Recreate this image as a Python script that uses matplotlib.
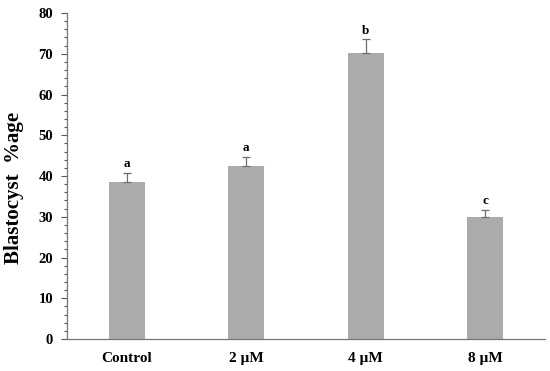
import matplotlib.pyplot as plt
from matplotlib.ticker import MultipleLocator

groups = ['Control', '2 \u00b5M', '4 \u00b5M', '8 \u00b5M']
blastocyst = [38.6, 42.5, 70.1, 29.9]
errors = [2.2, 2.2, 3.5, 1.8]
letters = ['a', 'a', 'b', 'c']

plt.rcParams['font.family'] = 'Liberation Serif'
plt.rcParams['font.weight'] = 'bold'

fig = plt.figure(figsize=(5.5, 3.71), dpi=100)
ax = fig.add_axes([0.122, 0.086, 0.869, 0.879])

x = range(len(groups))
ax.bar(x, blastocyst, width=0.3, color='#adaaab', zorder=2)
ax.errorbar(x, blastocyst, yerr=[[0] * len(errors), errors], fmt='none',
            ecolor='#6d6d6d', elinewidth=0.9, capsize=3, capthick=0.9, zorder=3)
for i, (v, e, l) in enumerate(zip(blastocyst, errors, letters)):
    ax.text(i, v + e + 0.6, l, ha='center', va='bottom', fontsize=9.5, fontweight='bold')

ax.set_xlim(-0.5, 3.5)
ax.set_ylim(0, 80)
ax.set_xticks(list(x))
ax.set_xticklabels(groups, fontsize=11, fontweight='bold')
ax.yaxis.set_major_locator(MultipleLocator(10))
ax.yaxis.set_minor_locator(MultipleLocator(2))
ax.tick_params(axis='y', which='major', length=4, width=0.8, color='#555555', labelsize=10.5, pad=6)
ax.tick_params(axis='y', which='minor', length=2.5, width=0.8, color='#555555')
ax.tick_params(axis='x', length=0, pad=9)
for lab in ax.get_yticklabels():
    lab.set_fontweight('bold')

for s in ['top', 'right']:
    ax.spines[s].set_visible(False)
for s in ['left', 'bottom']:
    ax.spines[s].set_color('#777777')
    ax.spines[s].set_linewidth(0.9)

ax.set_ylabel('Blastocyst  %age', fontsize=15, fontweight='bold')
ax.yaxis.set_label_coords(-0.09, 0.465)

fig.savefig('out.png', dpi=100)
